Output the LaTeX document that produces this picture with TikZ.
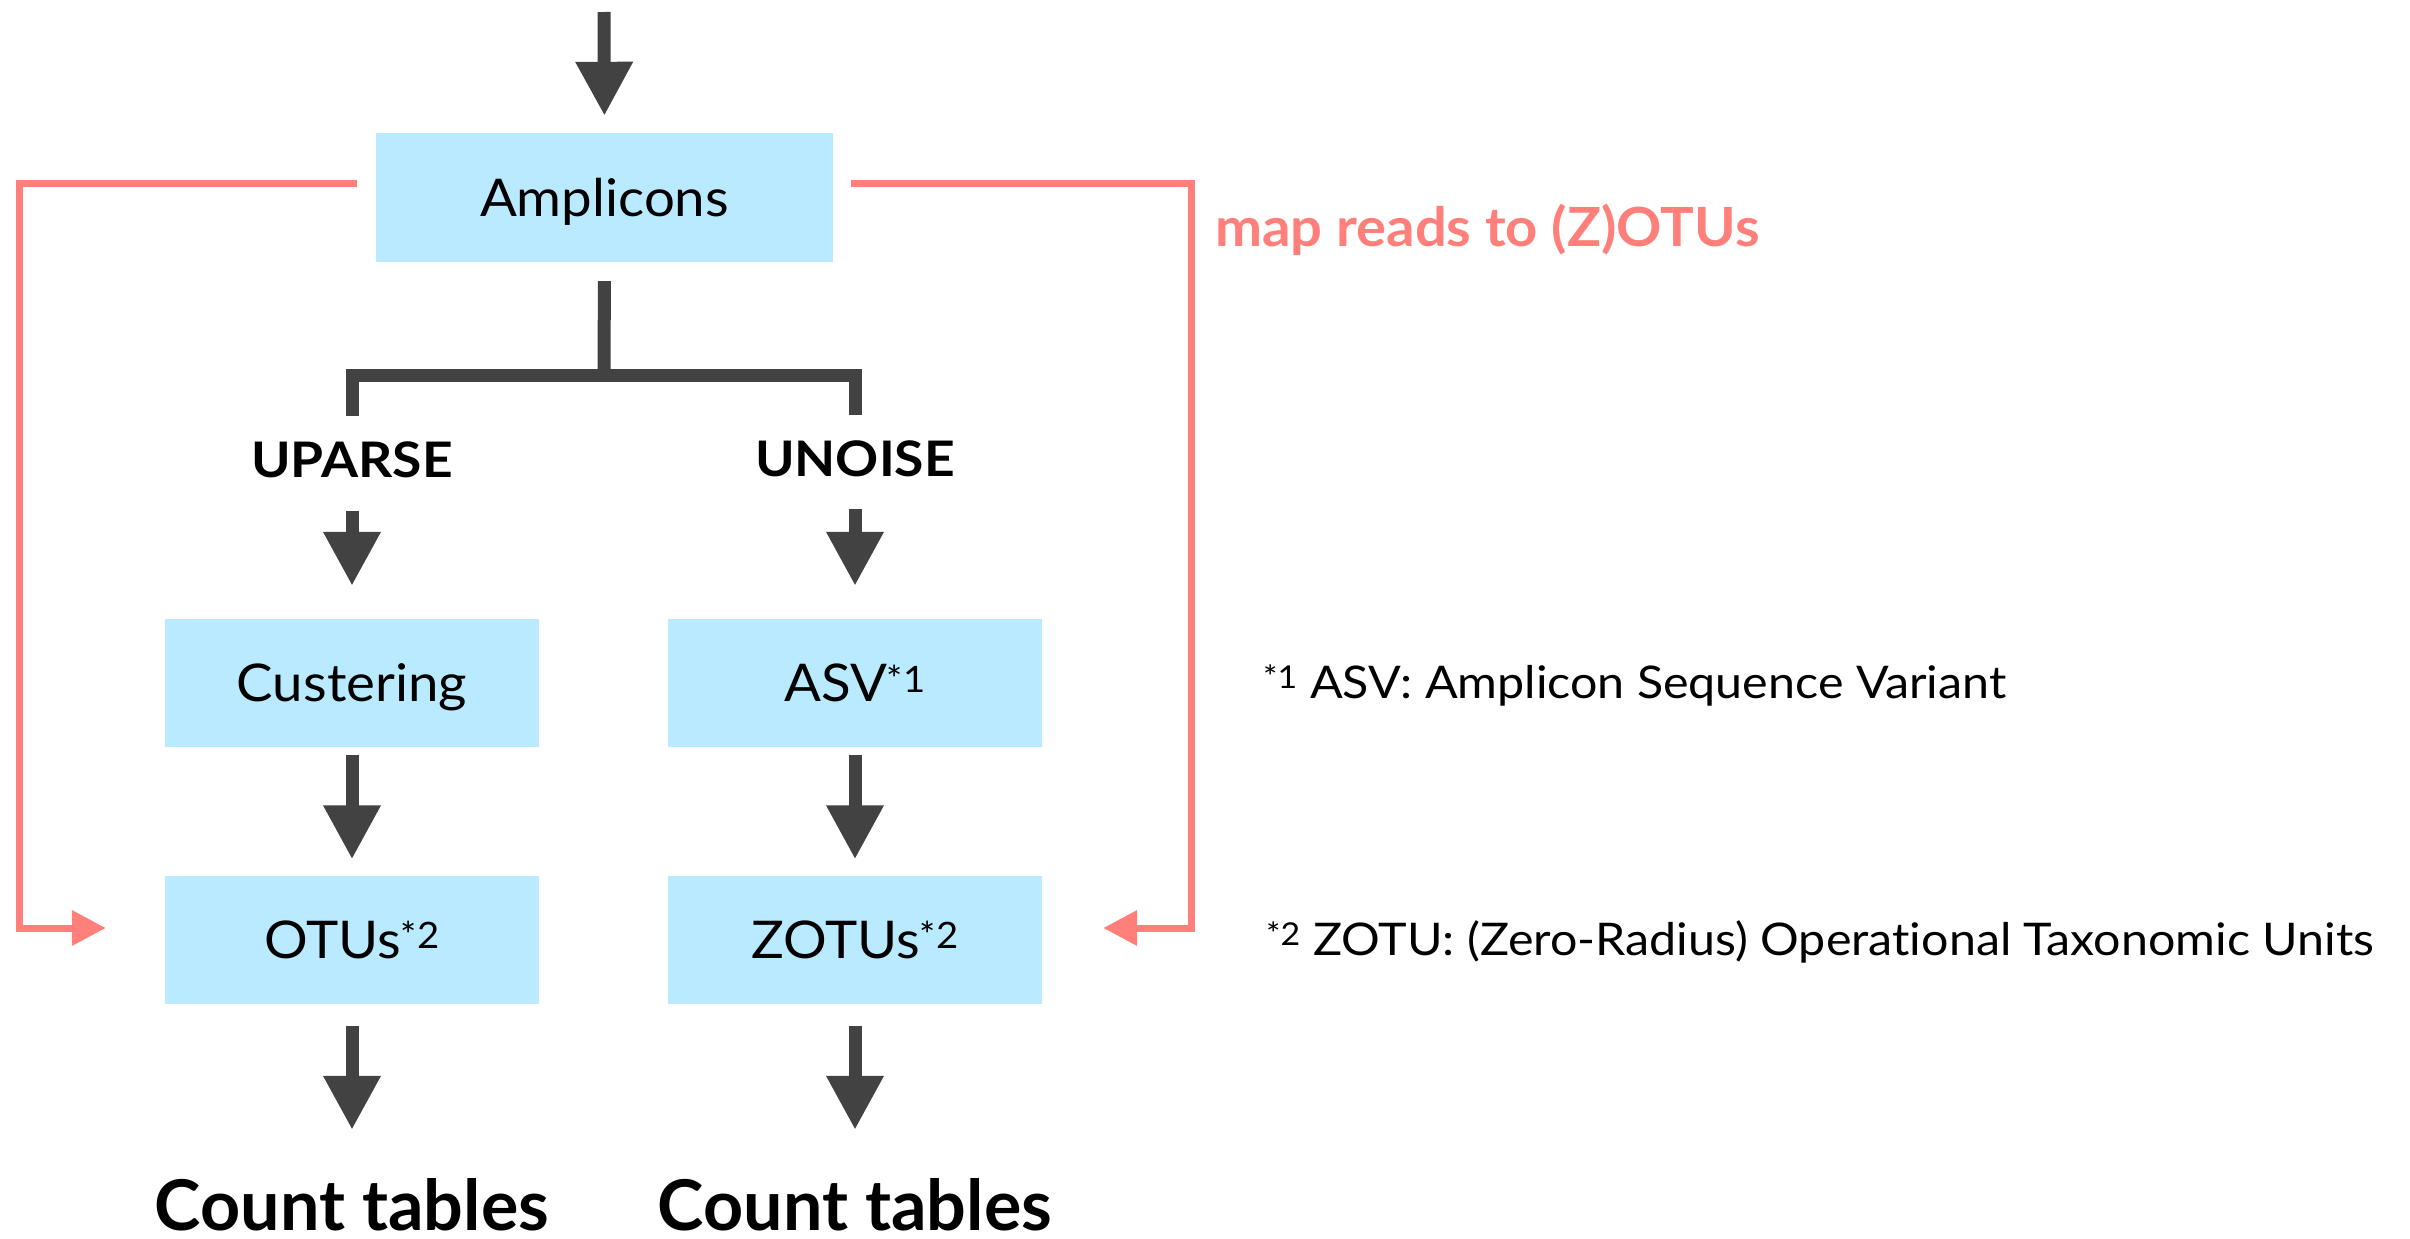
\documentclass[tikz,border=0pt]{standalone}
\usepackage{fontspec}
\setmainfont{Lato}[Ligatures=NoCommon]
\usetikzlibrary{arrows.meta}
\definecolor{boxblue}{HTML}{B9EAFF}
\definecolor{linkred}{HTML}{FF7F7A}
\definecolor{ink}{HTML}{424242}

\begin{document}
\begin{tikzpicture}[x=1pt,y=-1pt,
  stage/.style={fill=boxblue, inner sep=0pt, minimum width=374pt, minimum height=128pt,
    text height=37pt, text depth=0pt,
    font=\fontsize{52}{60}\selectfont\addfontfeatures{FakeStretch=1.05}},
  method/.style={inner sep=0pt, anchor=base, text height=35pt, text depth=0pt,
    font=\fontsize{49}{56}\selectfont\bfseries\addfontfeatures{FakeStretch=1.09}},
  result/.style={inner sep=0pt, anchor=base, text height=50pt, text depth=0pt,
    font=\fontsize{70}{80}\selectfont\bfseries},
  note/.style={inner sep=0pt, anchor=base west,
    font=\fontsize{45}{52}\selectfont\addfontfeatures{FakeStretch=1.075}},
  flow/.style={draw=ink, line width=13pt, -{Triangle[length=54pt,width=54pt]}},
  branch/.style={draw=ink, line width=13pt, line join=miter},
  mapline/.style={draw=linkred, line width=7pt, line join=miter,
    -{Triangle[length=34pt,width=34pt]}},
]
\useasboundingbox (0,0) rectangle (2410,1239);

% process boxes
\node[stage, minimum width=457pt, minimum height=129pt] (amp) at (604.5,197.5) {Amplicons};
\node[stage] (clus) at (352,683) {Custering};
\node[stage] (asv)  at (855,683) {ASV\textsuperscript{*1}};
\node[stage] (otu)  at (352,939.5) {OTUs\textsuperscript{*2}};
\node[stage] (zotu) at (855,939.5) {ZOTUs\textsuperscript{*2}};

% method and result labels
\node[method] (uparse) at (352,477) {UPARSE};
\node[method] (unoise) at (855,476) {UNOISE};
\node[result] (cntL) at (352,1230) {Count tables};
\node[result] (cntR) at (855,1230) {Count tables};

% side texts
\node[note, text=linkred,
  font=\fontsize{54}{60}\selectfont\bfseries\addfontfeatures{FakeStretch=1.04}] (maplabel)
  at (1215,246) {map reads to (Z)OTUs};
\node[note] (fn1) at (1263,698) {\textsuperscript{*1} ASV: Amplicon Sequence Variant};
\node[note] (fn2) at (1266,955) {\textsuperscript{*2} ZOTU: (Zero-Radius) Operational Taxonomic Units};

% incoming arrow
\coordinate (src) at (604,12);
\draw[flow, shorten >=17pt] (src) -- (amp.north);

% split into the two pipelines
\coordinate (split) at (604,375);
\coordinate (legL) at (352,416);
\coordinate (legR) at (855,415);
\draw[branch, shorten <=19pt] (amp.south) -- (split);
\draw[branch] (legL) |- (split) -| (legR);

% pipeline arrows
\draw[flow, shorten <=34pt, shorten >=33pt] (uparse.south) -- (clus.north);
\draw[flow, shorten <=33pt, shorten >=33pt] (unoise.south) -- (asv.north);
\draw[flow, shorten <=8pt, shorten >=16pt] (clus.south) -- (otu.north);
\draw[flow, shorten <=8pt, shorten >=16pt] (asv.south) -- (zotu.north);
\draw[flow, shorten <=22pt, shorten >=50pt] (otu.south) -- (cntL.north);
\draw[flow, shorten <=22pt, shorten >=50pt] (zotu.south) -- (cntR.north);

% read mapping back onto the (Z)OTUs
\coordinate (mapLtop) at (19,183);
\coordinate (mapLbot) at (19,928);
\coordinate (mapRtop) at (1191,183);
\coordinate (mapRbot) at (1191,928);
\draw[mapline] ([xshift=-19pt,yshift=14.5pt]amp.west) -- (mapLtop) -- (mapLbot)
  -- ([xshift=-59pt,yshift=11.5pt]otu.west);
\draw[mapline] ([xshift=18pt,yshift=14.5pt]amp.east) -- (mapRtop) -- (mapRbot)
  -- ([xshift=61pt,yshift=11.5pt]zotu.east);
\end{tikzpicture}
\end{document}
